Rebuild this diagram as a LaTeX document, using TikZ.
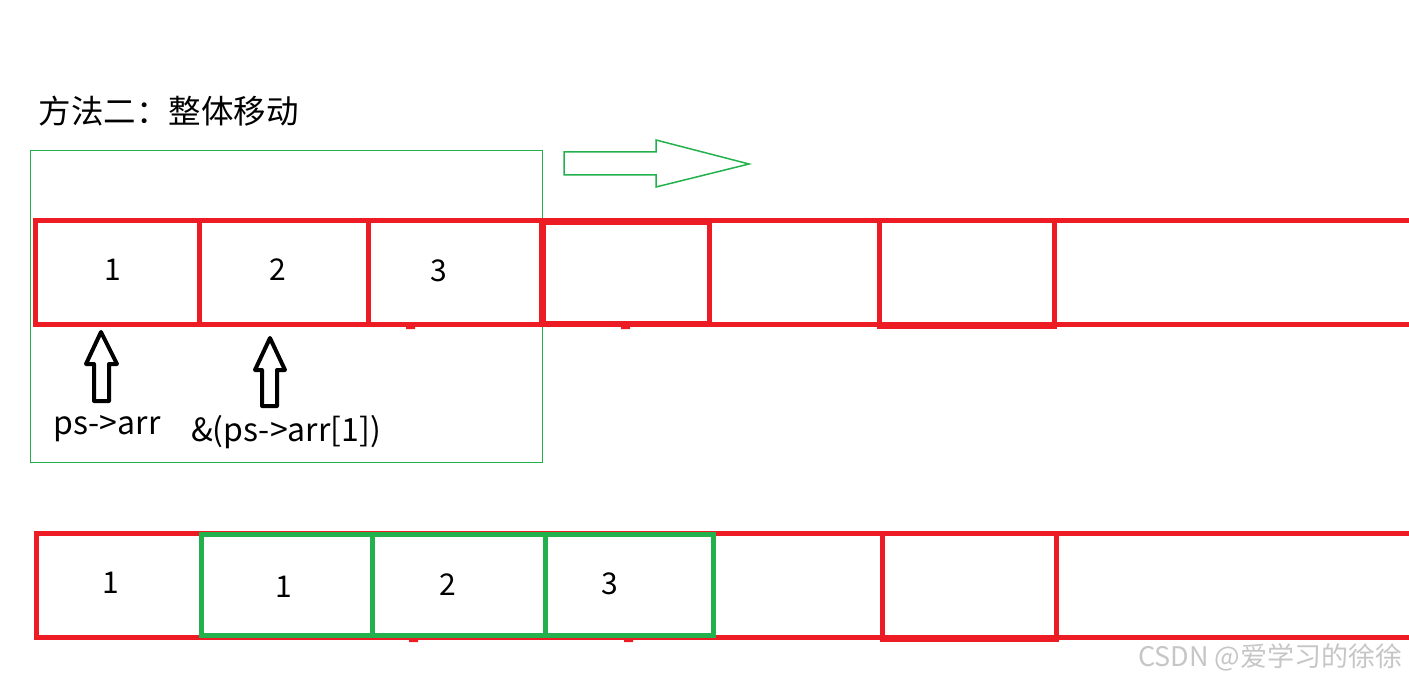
\documentclass[tikz,border=0pt]{standalone}
\usepackage{fontspec}
\setmainfont{Noto Sans CJK SC}
\usepackage{xcolor}
\definecolor{paintred}{HTML}{ED1C24}
\definecolor{paintgreen}{HTML}{22B14C}
\tikzset{
  redline/.style={draw=paintred,line width=5pt},
  greenline/.style={draw=paintgreen,line width=5pt},
  blockarrow/.style={draw=black,line width=4pt,line join=round},
  num/.style={font=\fontsize{30}{34}\selectfont},
  lbl/.style={font=\fontsize{32}{36}\selectfont}
}
\begin{document}
\begin{tikzpicture}[x=1pt,y=-1pt]
  \useasboundingbox (0,0) rectangle (1409,682);
  \node[anchor=west,font=\fontsize{32.5}{38}\selectfont] (title) at (35,111) {方法二：整体移动};
  % selection box and move arrow
  \draw[paintgreen,line width=1pt] (30,151) rectangle (542,462);
  \draw[paintgreen,line width=1.5pt] (564,152) -- (656,152) -- (656,140) -- (749,164)
    -- (656,187) -- (656,175) -- (564,175) -- cycle;
  % top row
  \foreach \a/\b in {35/199,199/368,368/541} \draw[redline] (\a,220) rectangle (\b,324);
  \draw[redline] (541,220) -- (1409,220) (541,324) -- (1409,324);
  \draw[redline] (543,222) rectangle (709,323);
  \draw[redline] (879,220) rectangle (1054,326);
  \fill[paintred] (406,325) rectangle (415,329) (621,325) rectangle (630,329);
  \node[num] (t1) at (113,270) {1};
  \node[num] (t2) at (278,270) {2};
  \node[num] (t3) at (439,271) {3};
  % pointers
  \draw[blockarrow] (101,332) -- (117,364) -- (109,364) -- (109,401) -- (94,401) -- (94,364)
    -- (86,364) -- cycle;
  \draw[blockarrow] (270,338) -- (285,370) -- (277,370) -- (277,406) -- (262,406) -- (262,370)
    -- (255,370) -- cycle;
  \node[lbl] (p1) at (107,429) {ps->arr};
  \node[lbl] (p2) at (286,432) {\&(ps->arr[1])};
  % bottom row
  \draw[redline] (36,533) rectangle (201,637);
  \draw[redline] (201,533) -- (1409,533) (201,637) -- (1409,637);
  \draw[redline] (882,533) rectangle (1056,639);
  \fill[paintred] (409,638) rectangle (418,642) (624,638) rectangle (633,642);
  \foreach \a/\b in {201/372,372/545,545/713} \draw[greenline] (\a,534) rectangle (\b,635);
  \node[num] (b0) at (111,583) {1};
  \node[num] (b1) at (284,587) {1};
  \node[num] (b2) at (448,585) {2};
  \node[num] (b3) at (610,584) {3};
  \node[anchor=east,text=gray!45,font=\fontsize{27}{31}\selectfont] (mark) at (1406,657) {CSDN @爱学习的徐徐};
\end{tikzpicture}
\end{document}
